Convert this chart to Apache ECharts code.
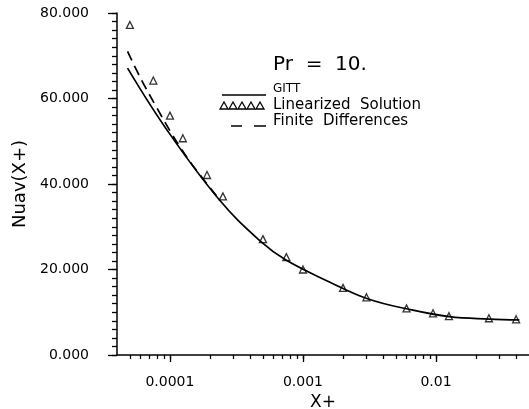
<!DOCTYPE html>
<html>
<head>
<meta charset="utf-8">
<script src="https://cdn.jsdelivr.net/npm/echarts@6/dist/echarts.min.js"></script>
<style>html,body{margin:0;padding:0;background:#fff}#c{width:529px;height:409px}</style>
</head>
<body>
<div id="c"></div>
<script>
// GITT (solid)
const gittX = [4.8e-5, 9.33e-5, 2.35e-4, 4.83e-4, 7.45e-4, 1.58e-3, 3.1e-3, 6.22e-3, 1.26e-2, 2.52e-2, 4.23e-2];
const gittY = [67.1, 53.0, 36.3, 26.5, 22.2, 17.1, 13.1, 10.7, 8.96, 8.4, 8.2];
// Finite Differences (dashed)
const fdX = [4.8e-5, 6.05e-5, 7.85e-5, 1.02e-4, 1.21e-4, 1.48e-4, 2.35e-4];
const fdY = [71.0, 64.6, 58.2, 52.0, 48.3, 44.4, 36.4];
// Linearized Solution (triangles)
const linX = [5e-5, 7.5e-5, 1e-4, 1.25e-4, 1.9e-4, 2.5e-4, 5e-4, 7.5e-4, 1e-3, 2e-3, 3e-3, 6e-3, 9.5e-3, 1.25e-2, 2.5e-2, 4e-2];
const linY = [77.2, 64.2, 56.0, 50.7, 42.1, 37.1, 27.1, 22.9, 20.0, 15.7, 13.5, 10.9, 9.75, 9.1, 8.6, 8.35];
// axis ticks
const xMajor = [1e-4, 1e-3, 1e-2];
const xLabels = ['0.0001', '0.001', '0.01'];
const xMinor = [5e-5, 6e-5, 7e-5, 8e-5, 9e-5, 2e-4, 3e-4, 4e-4, 5e-4, 6e-4, 7e-4, 8e-4, 9e-4, 2e-3, 3e-3, 4e-3, 5e-3, 6e-3, 7e-3, 8e-3, 9e-3, 2e-2, 3e-2, 4e-2];
const yTickLabels = ['0.000', '20.000', '40.000', '60.000', '80.000'];

const zip = (a, b) => a.map((v, i) => [v, b[i]]);
const font = 'DejaVu Sans';
const chart = echarts.init(document.getElementById('c'));
const xBase = {
  type: 'log', logBase: 10, min: 4e-5, max: 0.05,
  splitLine: { show: false }, minorSplitLine: { show: false }
};
const legendTri = [224, 233, 242, 251, 260].map(x => ({
  type: 'polygon', shape: { points: [[x, 102], [x + 4, 109], [x - 4, 109]] },
  style: { stroke: '#000', fill: '#fff', lineWidth: 1.3 }
}));
chart.setOption({
  animation: false,
  backgroundColor: '#fff',
  grid: { left: 117, width: 412, top: 13, height: 342, containLabel: false, outerBoundsMode: 'none' },
  xAxis: [
    Object.assign({}, xBase, {
      axisLine: { show: true, lineStyle: { color: '#000', width: 1.5 } },
      axisTick: { show: true, length: 4, lineStyle: { color: '#000', width: 1.3 }, customValues: xMinor.concat(xMajor) },
      axisLabel: { show: true, customValues: xMajor, margin: 20, color: '#000', fontFamily: font, fontSize: 14,
        formatter: v => { const i = xMajor.findIndex(m => Math.abs(m - v) / m < 1e-6); return i >= 0 ? xLabels[i] : ''; } },
      name: 'X+', nameLocation: 'middle', nameGap: 34,
      nameTextStyle: { color: '#000', fontFamily: font, fontSize: 17 }
    }),
    Object.assign({}, xBase, {
      position: 'bottom',
      axisLine: { show: false },
      axisTick: { show: true, length: 7, lineStyle: { color: '#000', width: 1.3 }, customValues: xMajor },
      axisLabel: { show: false }
    })
  ],
  yAxis: [{
    type: 'value', min: 0, max: 80, interval: 20, position: 'left',
    axisLine: { show: true, lineStyle: { color: '#000', width: 1.5 } },
    axisTick: { show: true, length: 9, lineStyle: { color: '#000', width: 1.3 } },
    splitLine: { show: false },
    axisLabel: { color: '#000', fontFamily: font, fontSize: 14, margin: 28,
      formatter: v => yTickLabels[Math.round(v / 20)] },
    name: 'Nuav(X+)', nameLocation: 'middle', nameGap: 84, nameRotate: 90,
    nameTextStyle: { color: '#000', fontFamily: font, fontSize: 18 }
  }, {
    type: 'value', min: 0, max: 80, interval: 2, position: 'left', offset: 0,
    axisLine: { show: false },
    axisTick: { show: true, length: 5, lineStyle: { color: '#000', width: 1.3 } },
    splitLine: { show: false },
    axisLabel: { show: false }
  }],
  graphic: [
    { type: 'text', x: 273, y: 55, style: { text: 'Pr  =  10.', font: '20px "DejaVu Sans"', fill: '#000' } },
    { type: 'line', shape: { x1: 222, y1: 95, x2: 266, y2: 95 }, style: { stroke: '#000', lineWidth: 1.5 } },
    { type: 'line', shape: { x1: 231, y1: 126, x2: 242, y2: 126 }, style: { stroke: '#000', lineWidth: 1.5 } },
    { type: 'line', shape: { x1: 254, y1: 126, x2: 266, y2: 126 }, style: { stroke: '#000', lineWidth: 1.5 } },
    { type: 'text', x: 273, y: 83, style: { text: 'GITT', font: '12px "DejaVu Sans"', fill: '#000' } },
    { type: 'text', x: 273, y: 98, style: { text: 'Linearized  Solution', font: '15px "DejaVu Sans"', fill: '#000' } },
    { type: 'text', x: 273, y: 114, style: { text: 'Finite  Differences', font: '15px "DejaVu Sans"', fill: '#000' } }
  ].concat(legendTri),
  series: [
    { name: 'GITT', type: 'line', xAxisIndex: 0, yAxisIndex: 0, data: zip(gittX, gittY), smooth: 0.4, showSymbol: false,
      lineStyle: { color: '#000', width: 1.7 } },
    { name: 'Finite Differences', type: 'line', xAxisIndex: 0, yAxisIndex: 0, data: zip(fdX, fdY), smooth: 0.4, showSymbol: false,
      lineStyle: { color: '#000', width: 1.7, type: [10, 6] } },
    { name: 'Linearized Solution', type: 'scatter', xAxisIndex: 0, yAxisIndex: 0, data: zip(linX, linY), symbol: 'triangle', symbolSize: 7,
      itemStyle: { color: '#fff', borderColor: '#000', borderWidth: 1.3 } }
  ]
});
</script>
</body>
</html>
